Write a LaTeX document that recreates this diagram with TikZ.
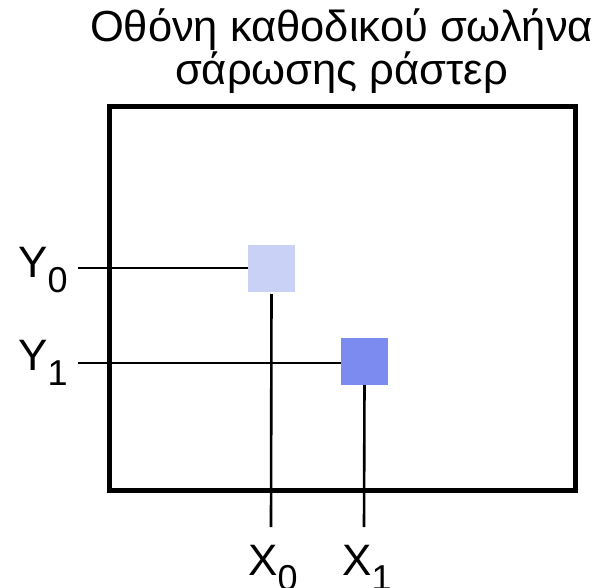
\documentclass[tikz,border=0pt]{standalone}
\usepackage{fontspec}
\setmainfont{Liberation Sans}
\definecolor{lightsq}{HTML}{C9D1F6}
\definecolor{darksq}{HTML}{7B8BF0}
\newcommand{\subsc}[1]{\raisebox{-15pt}{\fontsize{36}{36}\selectfont #1}}
\begin{document}
\begin{tikzpicture}[x=1pt,y=-1pt,
  frame/.style={line width=5pt},
  wire/.style={line width=2.6pt},
  pix/.style={minimum size=47pt,inner sep=0pt,outer sep=0pt},
  lbl/.style={font=\fontsize{44}{44}\selectfont,inner sep=0pt},
  ttl/.style={font=\fontsize{43.5}{44}\selectfont,inner sep=0pt}]
\useasboundingbox (0,0) rectangle (608,588);
\node[ttl,anchor=base] (title1) at (341.5,42) {Οθόνη καθοδικού σωλήνα};
\node[ttl,anchor=base] (title2) at (341.5,85) {σάρωσης ράστερ};
\draw[frame] (109,107) rectangle (575,490);
\node[pix,fill=lightsq] (p0) at (271.5,268.5) {};
\node[pix,fill=darksq] (p1) at (364.5,361.5) {};
\coordinate (y0s) at (78,268);
\coordinate (y1s) at (78,363);
\coordinate (x0e) at (271,527);
\coordinate (x1e) at (364,527);
\draw[wire] (y0s) -- (p0.west |- y0s);
\draw[wire] (y1s) -- (p1.west |- y1s);
\draw[wire] ([yshift=-2pt]p0.south) -- (x0e);
\draw[wire] (p1.south) -- (x1e);
\node[lbl,anchor=base west] (Y0) at (18,277) {Y\subsc{0}};
\node[lbl,anchor=base west] (Y1) at (18,370) {Y\subsc{1}};
\node[lbl,anchor=base west] (X0) at (248,575) {X\subsc{0}};
\node[lbl,anchor=base west] (X1) at (342,575) {X\subsc{1}};
\end{tikzpicture}
\end{document}
